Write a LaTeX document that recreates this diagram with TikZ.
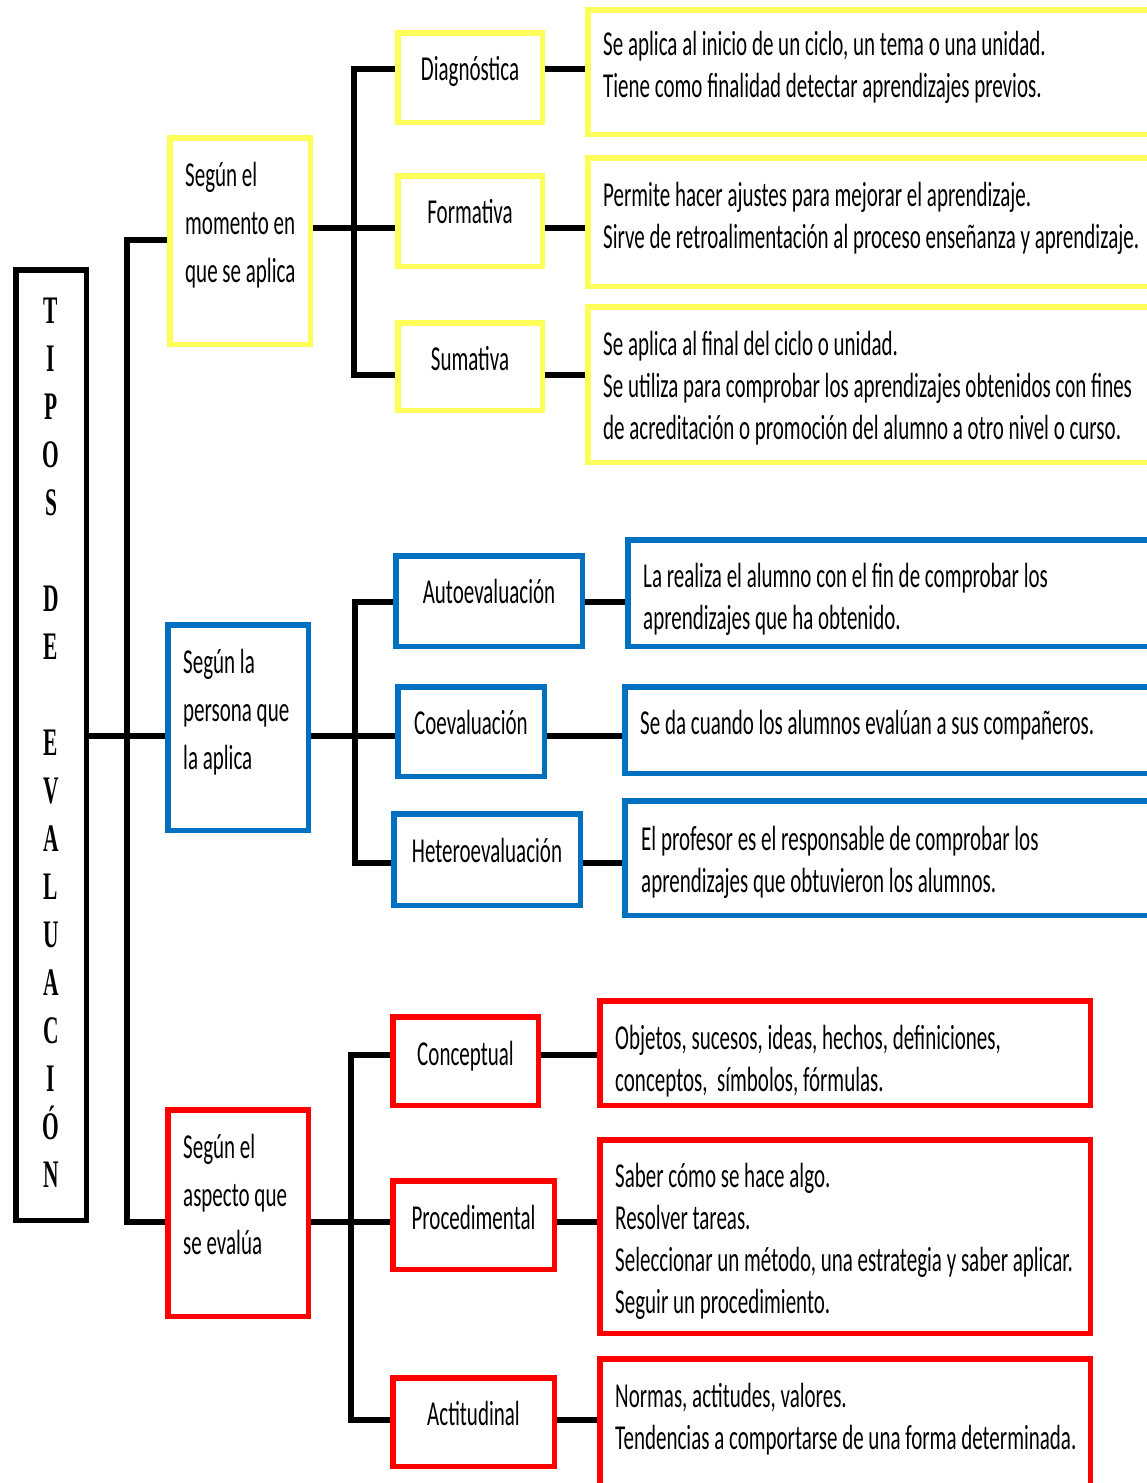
\documentclass[tikz,border=0pt]{standalone}
\usepackage{fontspec}
\setmainfont{Carlito}[FakeStretch=0.6]
\newfontfamily\titlefont{Liberation Serif}[FakeStretch=0.55]
\definecolor{cy}{RGB}{255,255,90}
\definecolor{cb}{RGB}{0,112,192}
\definecolor{cr}{RGB}{255,0,0}
\begin{document}
\begin{tikzpicture}[x=1pt,y=-1pt,
  box/.style={draw,rectangle,line width=5.5pt,inner sep=0pt,fill=white},
  ybox/.style={box,draw=cy},
  bbox/.style={box,draw=cb},
  rbox/.style={box,draw=cr},
  tbox/.style={box,draw=black},
  conn/.style={line width=5.5pt,line join=miter},
  lbl/.style={anchor=base,inner sep=0pt,font=\fontsize{35}{42}\selectfont},
  dtxt/.style={anchor=base west,align=left,inner sep=0pt,font=\fontsize{35}{42}\selectfont},
  ctxt/.style={anchor=base west,align=left,inner sep=0pt,font=\fontsize{35}{48}\selectfont}]
\useasboundingbox[fill=white] (0,0) rectangle (1147,1483);

% title (anchor = baseline of the last line)
\node[tbox,minimum width=70.5pt,minimum height=950.5pt] (title) at (51,745) {};
\node[anchor=base,align=center,inner sep=0pt,font=\titlefont\bfseries\fontsize{39}{48}\selectfont] (titletxt) at (51,1187)
 {T\\I\\P\\O\\S\\[48pt]D\\E\\[48pt]E\\V\\A\\L\\U\\A\\C\\I\\Ó\\N};

% categories
\node[ybox,minimum width=140.5pt,minimum height=206.5pt] (ycat) at (240,241) {};
\node[bbox,minimum width=140.5pt,minimum height=205.5pt] (bcat) at (238,727.5) {};
\node[rbox,minimum width=140.5pt,minimum height=206.5pt] (rcat) at (238,1213) {};
\node[ctxt] (ycatt) at (185,282) {Según el\\momento en\\que se aplica};
\node[ctxt] (bcatt) at (183,769) {Según la\\persona que\\la aplica};
\node[ctxt] (rcatt) at (183,1254) {Según el\\aspecto que\\se evalúa};

% yellow subtypes
\node[ybox,minimum width=144.5pt,minimum height=89.5pt] (diag) at (470,77.5) {};
\node[ybox,minimum width=144.5pt,minimum height=90.5pt] (form) at (470,221) {};
\node[ybox,minimum width=144.5pt,minimum height=87.5pt] (suma) at (470,366.5) {};
\node[lbl] (diagt) at (470,80) {Diagnóstica};
\node[lbl] (formt) at (470,223) {Formativa};
\node[lbl] (sumat) at (470,370) {Sumativa};

\node[ybox,minimum width=579.5pt,minimum height=124.5pt] (yd1) at (877.5,72) {};
\node[ybox,minimum width=579.5pt,minimum height=128.5pt] (yd2) at (877.5,222) {};
\node[ybox,minimum width=579.5pt,minimum height=155.5pt] (yd3) at (877.5,384.5) {};
\node[dtxt] (yd1t) at (603,97) {Se aplica al inicio de un ciclo, un tema o una unidad.\\Tiene como finalidad detectar aprendizajes previos.};
\node[dtxt] (yd2t) at (603,248) {Permite hacer ajustes para mejorar el aprendizaje.\\Sirve de retroalimentación al proceso enseñanza y aprendizaje.};
\node[dtxt] (yd3t) at (603,439) {Se aplica al final del ciclo o unidad.\\Se utiliza para comprobar los aprendizajes obtenidos con fines\\de acreditación o promoción del alumno a otro nivel o curso.};

% blue subtypes
\node[bbox,minimum width=186.5pt,minimum height=90.5pt] (auto) at (489,601) {};
\node[bbox,minimum width=146.5pt,minimum height=89.5pt] (coev) at (471,731.5) {};
\node[bbox,minimum width=186.5pt,minimum height=91.5pt] (hete) at (487,859.5) {};
\node[lbl] (autot) at (489,603) {Autoevaluación};
\node[lbl] (coevt) at (471,734) {Coevaluación};
\node[lbl] (hetet) at (487,862) {Heteroevaluación};

\node[bbox,minimum width=539.5pt,minimum height=106.5pt] (bd1) at (897.5,593) {};
\node[bbox,minimum width=542.5pt,minimum height=86.5pt] (bd2) at (896,730) {};
\node[bbox,minimum width=542.5pt,minimum height=114.5pt] (bd3) at (896,858) {};
\node[dtxt] (bd1t) at (643,629) {La realiza el alumno con el fin de comprobar los\\aprendizajes que ha obtenido.};
\node[dtxt] (bd2t) at (640,734) {Se da cuando los alumnos evalúan a sus compañeros.};
\node[dtxt] (bd3t) at (641,892) {El profesor es el responsable de comprobar los\\aprendizajes que obtuvieron los alumnos.};

% red subtypes
\node[rbox,minimum width=145.5pt,minimum height=88.5pt] (conc) at (465.5,1061) {};
\node[rbox,minimum width=161.5pt,minimum height=88.5pt] (proc) at (473.5,1225) {};
\node[rbox,minimum width=161.5pt,minimum height=88.5pt] (acti) at (473.5,1422) {};
\node[lbl] (conct) at (465.5,1065) {Conceptual};
\node[lbl] (proct) at (473.5,1229) {Procedimental};
\node[lbl] (actit) at (473.5,1425) {Actitudinal};

\node[rbox,minimum width=490.5pt,minimum height=104.5pt] (rd1) at (845,1053) {};
\node[rbox,minimum width=490.5pt,minimum height=193.5pt] (rd2) at (845,1236.5) {};
\node[rbox,minimum width=490.5pt,minimum height=138.5pt] (rd3) at (845,1428) {};
\node[dtxt] (rd1t) at (615,1091) {Objetos, sucesos, ideas, hechos, definiciones,\\conceptos,\ \ símbolos, fórmulas.};
\node[dtxt] (rd2t) at (615,1313) {Saber cómo se hace algo.\\Resolver tareas.\\Seleccionar un método, una estrategia y saber aplicar.\\Seguir un procedimiento.};
\node[dtxt] (rd3t) at (615,1449) {Normas, actitudes, valores.\\Tendencias a comportarse de una forma determinada.};

% connectors: main
\coordinate (b1) at (127,240);
\coordinate (b2) at (127,736);
\coordinate (b3) at (127,1222);
\draw[conn] (ycat.west|-b1) -- (b1) -- (b3) -- (rcat.west|-b3);
\draw[conn] (title.east|-b2) -- (bcat.west|-b2);

% yellow
\coordinate (yb1) at (354,69);
\coordinate (yb2) at (354,228);
\coordinate (yb3) at (354,375);
\draw[conn] (diag.west|-yb1) -- (yb1) -- (yb3) -- (suma.west|-yb3);
\draw[conn] (ycat.east|-yb2) -- (form.west|-yb2);
\draw[conn] (diag.east|-yb1) -- (yd1.west|-yb1);
\draw[conn] (form.east|-yb2) -- (yd2.west|-yb2);
\draw[conn] (suma.east|-yb3) -- (yd3.west|-yb3);

% blue
\coordinate (bb1) at (355,602);
\coordinate (bb2) at (355,736);
\coordinate (bb3) at (355,863);
\draw[conn] (auto.west|-bb1) -- (bb1) -- (bb3) -- (hete.west|-bb3);
\draw[conn] (bcat.east|-bb2) -- (coev.west|-bb2);
\draw[conn] (auto.east|-bb1) -- (bd1.west|-bb1);
\draw[conn] (coev.east|-bb2) -- (bd2.west|-bb2);
\draw[conn] (hete.east|-bb3) -- (bd3.west|-bb3);

% red
\coordinate (rb1) at (351,1055);
\coordinate (rb2) at (351,1222);
\coordinate (rb3) at (351,1420);
\draw[conn] (conc.west|-rb1) -- (rb1) -- (rb3) -- (acti.west|-rb3);
\draw[conn] (rcat.east|-rb2) -- (proc.west|-rb2);
\draw[conn] (conc.east|-rb1) -- (rd1.west|-rb1);
\draw[conn] (proc.east|-rb2) -- (rd2.west|-rb2);
\draw[conn] (acti.east|-rb3) -- (rd3.west|-rb3);
\end{tikzpicture}
\end{document}
